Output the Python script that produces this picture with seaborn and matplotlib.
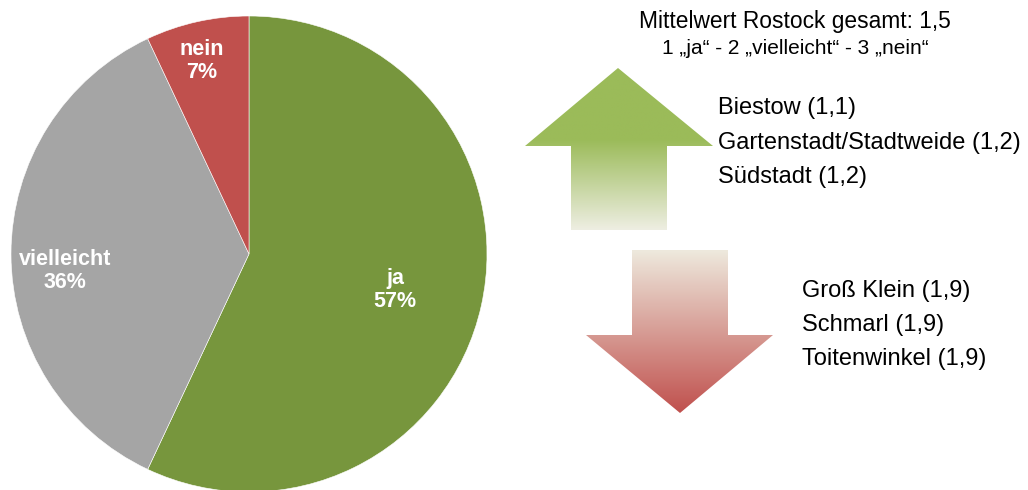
import numpy as np
import matplotlib
matplotlib.use("Agg")
import matplotlib.pyplot as plt
from matplotlib.patches import Polygon
from matplotlib.colors import to_rgb
import seaborn as sns

sns.set_theme(style="white")
plt.rcParams['font.family'] = ['Liberation Sans', 'DejaVu Sans']

# data
answers = ["ja", "vielleicht", "nein"]
shares = [57, 36, 7]
pie_colors = ["#77963D", "#A5A5A5", "#C0504D"]
title_line = "Mittelwert Rostock gesamt: 1,5"
scale_line = "1 „ja“ - 2 „vielleicht“ - 3 „nein“"
best_districts = ["Biestow (1,1)", "Gartenstadt/Stadtweide (1,2)", "Südstadt (1,2)"]
worst_districts = ["Groß Klein (1,9)", "Schmarl (1,9)", "Toitenwinkel (1,9)"]

W, H = 1028, 490
fig = plt.figure(figsize=(W / 100, H / 100), dpi=100)
ax = fig.add_axes([0, 0, 1, 1])

# pie (pixel coords, y up)
cx, cy, r = 249, H - 254, 238
wedges, _ = ax.pie(shares, colors=pie_colors, startangle=90, counterclock=False,
                   center=(cx, cy), radius=r, frame=True,
                   wedgeprops=dict(linewidth=0.4, edgecolor="white"))
# label placement: distance from centre and small angle tweak (deg)
label_dist = [0.632, 0.775, 0.835]
label_shift = [-1.2, 5.3, 1.1]
for w, name, val, d, sh in zip(wedges, answers, shares, label_dist, label_shift):
    ang = np.deg2rad((w.theta1 + w.theta2) / 2 + sh)
    ax.text(cx + d * r * np.cos(ang), cy + d * r * np.sin(ang), f"{name}\n{val}%",
            ha="center", va="center", color="white", fontsize=15.5,
            fontweight="bold", linespacing=1.12)


def gradient_arrow(pts, top, bottom, c_top, c_bot, solid_above=None):
    poly = Polygon(pts, closed=True, facecolor="none", edgecolor="none")
    ax.add_patch(poly)
    xs = [p[0] for p in pts]
    ys = np.linspace(top, bottom, 200)
    c1, c2 = np.array(to_rgb(c_top)), np.array(to_rgb(c_bot))
    g0 = solid_above if solid_above is not None else top
    t = np.clip((g0 - ys) / (g0 - bottom), 0, 1)[:, None]
    img = (c1 * (1 - t) + c2 * t)[:, None, :]
    im = ax.imshow(img, extent=(min(xs), max(xs), bottom, top), origin="upper",
                   aspect="auto", interpolation="bilinear", zorder=2)
    im.set_clip_path(poly)


# up arrow (green)
up = [(618, H - 68), (713, H - 146), (667, H - 146), (667, H - 230),
      (571, H - 230), (571, H - 146), (525, H - 146)]
gradient_arrow(up, H - 68, H - 230, "#9BBB59", "#EEEEE2", solid_above=H - 140)

# down arrow (red)
down = [(632, H - 250), (728, H - 250), (728, H - 335), (773, H - 335),
        (680, H - 413), (586, H - 335), (632, H - 335)]
gradient_arrow(down, H - 250, H - 413, "#EEEADE", "#C0504D")

ax.text(795, H - 22, title_line, ha="center", va="center", fontsize=16.4, color="black")
ax.text(795, H - 49, scale_line, ha="center", va="center", fontsize=15, color="black")

for i, s in enumerate(best_districts):
    ax.text(718, H - (108 + 34.5 * i), s, ha="left", va="center", fontsize=17, color="black")
for i, s in enumerate(worst_districts):
    ax.text(802, H - (291 + 34 * i), s, ha="left", va="center", fontsize=17, color="black")

ax.set_xlim(0, W)
ax.set_ylim(0, H)
ax.set_aspect("equal")
ax.axis("off")

fig.savefig("out.png", dpi=100, facecolor="white")
